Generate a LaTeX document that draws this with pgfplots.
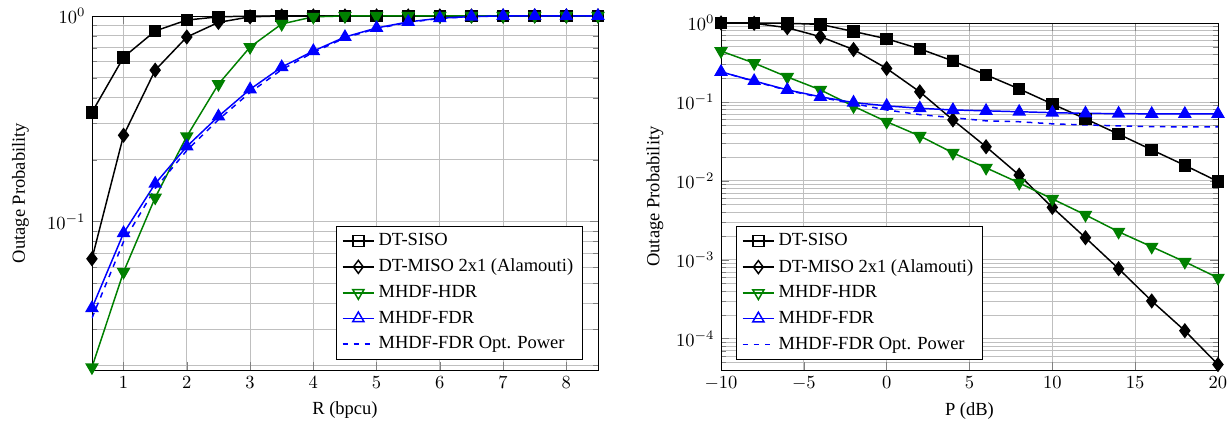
\documentclass[border=0pt]{standalone}
\usepackage{fontspec}
\setmainfont{Liberation Serif}
\usepackage{pgfplots}
\pgfplotsset{compat=1.18}
\usepackage{pgfplotstable}

% Outage probability versus rate R (bpcu)
\pgfplotstableread{
R    siso   miso   hdr    fdr    opt
0.5  0.34   0.066  0.0196 0.038  0.034
1    0.63   0.263  0.057  0.088  0.080
1.5  0.845  0.545  0.131  0.153  0.145
2    0.955  0.79   0.26   0.232  0.222
2.5  0.99   0.93   0.466  0.325  0.313
3    0.998  0.99   0.706  0.44   0.425
3.5  1      1      0.914  0.564  0.548
4    1      1      0.99   0.675  0.665
4.5  1      1      1      0.79   0.782
5    1      1      1      0.874  0.868
5.5  1      1      1      0.935  0.93
6    1      1      1      0.975  0.972
6.5  1      1      1      0.993  0.992
7    1      1      1      1      1
7.5  1      1      1      1      1
8    1      1      1      1      1
8.5  1      1      1      1      1
}\ratetable

% Outage probability versus transmit power P (dB)
\pgfplotstableread{
P    siso    miso      hdr     fdr     opt
-10  1.0     1.0       0.44    0.24    0.24
-8   1.0     0.99      0.31    0.184   0.182
-6   0.99    0.87      0.207   0.142   0.140
-4   0.96    0.67      0.142   0.116   0.114
-2   0.78    0.46      0.088   0.098   0.095
0    0.63    0.265     0.056   0.089   0.079
2    0.47    0.134     0.037   0.083   0.069
4    0.33    0.059     0.0226  0.079   0.063
6    0.22    0.027     0.0146  0.077   0.0575
8    0.146   0.0118    0.0094  0.075   0.056
10   0.094   0.0046    0.0059  0.073   0.0527
12   0.061   0.0019    0.0037  0.0715  0.051
14   0.039   0.00077   0.00226 0.071   0.0497
16   0.0247  0.0003    0.00146 0.0705  0.0485
18   0.0157  0.000126  0.00094 0.0705  0.0483
20   0.0098  0.000047  0.00059 0.0705  0.0483
}\powertable

\definecolor{hdrgreen}{RGB}{0,128,0}

\begin{document}
\begin{tikzpicture}
\path[use as bounding box] (-49.7pt,-28.6pt) rectangle (615.1pt,200pt);

\begin{axis}[
  scale only axis,
  ymode=log,
  grid=both,
  ymax=1,
  ylabel={Outage Probability},
  ylabel shift=3pt,
  legend cell align=left,
  legend style={row sep=1.8pt},
  width=273.5pt, height=191.4pt,
  xmin=0.5, xmax=8.5, ymin=0.019,
  xtick={1,2,...,8},
  xlabel={R (bpcu)},
  legend pos=south east,
]
\addplot[black, thick, mark=square*, mark size=3pt, forget plot] table[x=R, y=siso] {\ratetable};
\addplot[black, thick, mark=diamond*, mark size=3.5pt, forget plot] table[x=R, y=miso] {\ratetable};
\addplot[hdrgreen, thick, mark=triangle*, mark size=3.5pt, mark options={rotate=180}, forget plot] table[x=R, y=hdr] {\ratetable};
\addplot[blue, thick, mark=triangle*, mark size=3.5pt, forget plot] table[x=R, y=fdr] {\ratetable};
\addplot[blue, thick, dashed, forget plot] table[x=R, y=opt] {\ratetable};
\addlegendimage{black, thick, mark=square, mark size=3pt}
\addlegendentry{DT-SISO}
\addlegendimage{black, thick, mark=diamond, mark size=3.5pt}
\addlegendentry{DT-MISO 2x1 (Alamouti)}
\addlegendimage{hdrgreen, thick, mark=triangle, mark size=3.5pt, mark options={rotate=180}}
\addlegendentry{MHDF-HDR}
\addlegendimage{blue, thick, mark=triangle, mark size=3.5pt}
\addlegendentry{MHDF-FDR}
\addlegendimage{blue, thick, dashed}
\addlegendentry{MHDF-FDR Opt. Power}
\end{axis}

\begin{axis}[
  scale only axis,
  ymode=log,
  grid=both,
  ymax=1,
  ylabel={Outage Probability},
  legend cell align=left,
  legend style={row sep=1.8pt},
  at={(340pt,0pt)},
  width=268.6pt, height=187.6pt,
  xmin=-10, xmax=20, ymin=4e-5,
  xtick={-10,-5,...,20},
  xlabel={P (dB)},
  legend pos=south west,
]
\addplot[black, thick, mark=square*, mark size=3pt, forget plot] table[x=P, y=siso] {\powertable};
\addplot[black, thick, mark=diamond*, mark size=3.5pt, forget plot] table[x=P, y=miso] {\powertable};
\addplot[hdrgreen, thick, mark=triangle*, mark size=3.5pt, mark options={rotate=180}, forget plot] table[x=P, y=hdr] {\powertable};
\addplot[blue, thick, mark=triangle*, mark size=3.5pt, forget plot] table[x=P, y=fdr] {\powertable};
\addplot[blue, thick, dashed, forget plot] table[x=P, y=opt] {\powertable};
\addlegendimage{black, thick, mark=square, mark size=3pt}
\addlegendentry{DT-SISO}
\addlegendimage{black, thick, mark=diamond, mark size=3.5pt}
\addlegendentry{DT-MISO 2x1 (Alamouti)}
\addlegendimage{hdrgreen, thick, mark=triangle, mark size=3.5pt, mark options={rotate=180}}
\addlegendentry{MHDF-HDR}
\addlegendimage{blue, thick, mark=triangle, mark size=3.5pt}
\addlegendentry{MHDF-FDR}
\addlegendimage{blue, thick, dashed}
\addlegendentry{MHDF-FDR Opt. Power}
\end{axis}
\end{tikzpicture}
\end{document}
